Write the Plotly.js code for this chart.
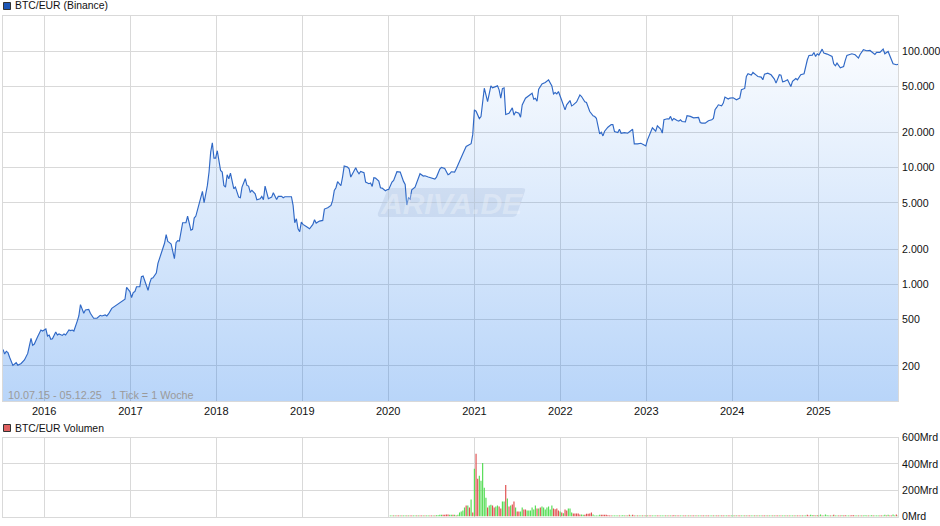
<!DOCTYPE html>
<html><head><meta charset="utf-8">
<script src="https://cdn.plot.ly/plotly-3.0.1.min.js"></script>
<style>html,body{margin:0;padding:0;background:#fff}</style></head>
<body><div id="chart" style="width:940px;height:526px"></div>
<script>
// weeks since 10.07.15 and weekly close in EUR
const priceWeek=[0,1,2,3,4,6,8,9,11,13,15,17,18,19,21,23,24,26,27,28,29,30,32,33,34,36,37,38,40,41,42,43,45,46,47,49,50,52,53,55,57,59,60,62,63,64,66,68,70,71,73,74,75,77,78,79,80,81,83,84,85,87,88,89,90,91,93,94,96,98,99,100,101,102,104,105,106,107,
109,111,112,114,115,116,117,119,120,121,122,124,125,126,127,128,129,130,132,133,134,135,136,137,138,140,141,143,144,145,147,148,149,150,151,153,154,156,157,158,159,161,163,164,166,167,169,170,171,173,175,176,177,178,179,180,
181,182,183,184,186,188,189,190,192,194,195,197,199,200,201,202,203,205,206,207,209,210,211,213,214,215,216,217,219,220,222,223,224,225,226,228,229,230,232,233,234,236,237,239,241,243,244,245,246,247,248,250,252,253,255,256,258,260,262,263,265,266,268,270,271,272,274,275,277,279,281,282,284,285,
286,287,289,290,291,292,294,296,297,298,300,301,302,303,304,305,307,309,310,311,313,314,315,317,319,321,322,323,324,325,327,329,331,333,334,335,336,337,339,341,342,344,345,346,348,350,351,353,354,356,358,359,360,362,363,364,365,367,369,370,371,373,374,375,377,379,382,383,385,387,389,390,391,393,
394,396,397,399,400,401,403,404,405,406,407,409,410,411,412,414,415,417,419,422,423,424,426,428,430,431,432,433,434,436,437,438,440,441,443,445,447,448,450,451,452,454,455,457,458,460,461,462,464,466,468,469,470,471,472,473,474,476,478,479,481,482,484,486,488,489,491,492,493,494,495,497,498,500,503,504,505,506,508,510,511,512,515,517,519,520,522,524,526,529,530,532,534,535,537,538,540,542,543];
const priceEUR=[277,253,267,260,237,202,213,203,210,225,256,345,300,308,356,406,398,415,361,368,338,342,391,368,376,365,376,368,406,401,406,398,482,536,670,565,603,611,565,512,512,543,536,547,536,558,623,652,688,698,725,745,944,867,770,850,867,955,955,1165,1180,990,890,1025,1125,1140,1250,1515,1847,2250,2670,2330,2280,2220,1660,2280,2370,2350,
3375,3375,3850,2920,2960,3700,3850,4912,5245,6266,5010,7055,9183,13620,16380,12100,12100,13990,9486,9180,7055,6825,8710,8050,9000,6607,6825,5603,5530,6825,8050,7055,6964,6185,6390,5984,5316,5422,5677,5316,6964,5422,5603,6105,5350,5677,5677,5530,5640,5603,5640,4753,3375,3652,2998,2825,
3420,3266,3224,3139,2998,3266,3581,3353,3488,3534,4420,4538,4753,5245,6390,6738,7584,7008,8316,10335,10132,9804,8316,9612,10000,9302,8883,9302,9060,7536,7292,7388,6918,8209,8153,7685,6738,6693,6350,6477,6520,7536,7787,9240,9180,7636,7196,4786,5530,5385,6477,6825,8047,8883,8482,8540,8316,8153,7994,8316,9741,10066,9870,8710,8883,9240,9180,9804,11560,13180,15240,15440,16060,19310,
31330,30520,26400,27480,35740,48050,36930,50350,48370,49020,50350,46510,39470,47740,48370,28590,29340,32600,28200,30130,29340,27110,34590,39470,41840,43560,38680,39470,37170,47120,52390,53760,56690,50350,43000,44100,43000,45050,37680,31330,34590,37680,33900,34590,36690,42120,40780,36690,36230,30320,27830,27480,26570,19500,20150,18750,20560,22250,23450,23450,20420,20020,21380,19760,20020,19760,21380,16000,16000,16220,15700,15390,17330,20700,
22000,20600,22900,21430,19800,25770,26300,26100,27540,25440,26460,25440,25100,25770,24930,24770,27900,27540,26800,26980,24440,24120,24120,25270,25770,26460,31400,32880,34640,33960,35800,40320,38760,39530,39800,38260,39530,46600,47860,60640,63950,62250,65620,62250,60640,59840,56770,63500,64740,62660,57540,53170,56770,62660,62250,54570,54950,56770,49760,54950,58280,56770,62660,63950,84250,91830,92400,97400,90000,94860,92400,104000,96100,94260,90000,77900,74840,78900,71960,73860,83180,91830,94860,93000,87100,93630,102660,100660,101320,93630,97400,97400,104000,94860,99340,92400,77900,76350,76870];

// weekly volume in Mrd, from week 235 on; g = up week, r = down week
const volFirstWeek=235;
const volMrd=[7,8,7,8,8,7,8,7,8,8,7,8,8,7,8,7,8,8,7,8,8,8,7,8,8,7,8,8,10,10,
13,13,13,13,15,15,13,13,13,13,8,13,30,38,46,68,84,84,68,129,30,362,476,
286,309,271,407,218,142,68,84,89,84,68,76,84,76,61,114,114,240,137,76,84,91,114,68,38,38,38,68,53,53,46,46,46,68,53,84,61,61,68,76,68,53,68,76,53,84,61,56,61,46,38,30,25,53,46,61,61,30,23,23,23,23,15,15,13,13,20,20,23,30,15,8,8,
8,13,13,13,13,13,10,8,8,8, 8,8,8,8,8,10,8,8,8,13, 8,13,8,8,8,8,8,8,8,8, 8,8,8,8,8,8,8,8,8,8, 8,8,8,8,8,8,10,8,8,8, 8,8,8,8,8,8,8,8,8,8, 8,8,8,8,8,8,8,8,8,8, 8,8,8,8,8,8,8,8,8,8, 8,8,8,8,8,8,8,8,8,8, 8,8,8,8,8,8,8,8,8,8, 8,8,8,8,8,8,8,8,8,8, 8,8,8,8,8,8,8,8,8,8, 8,8,8,8,8,8,8,13,8,13, 10,10,8,10,8,15,8,8,15,10, 8,8,8,13,8,8,8,8,10,8, 10,8,8,8,10,10,8,8,8,8, 8,8,10,8,8,8,10,8,8,8, 8,8,8,8,13,8,13,8,8,15,8,15,8];
const volDir=("ggrgrrgrggrgrrggrgrrgrggrrgrgg"+"ggrrrrggrgrgggg"+"g"+"rgrgrgr"+
"rgggggrggrrggrrggrgrgrrgrrggrrggggggrgrg"+"ggggggrrrrgrgrrgggrrrrrggrrrrrggggg"+"rrrrrrrgg"+
"ggrggg"+"rgrg"+"rrgrggrgrg"+"rrgggrrgggr"+"grgrrgrrgg"+"rrgrgrrgrg"+"grrgrrggrg"+"rrgrrggrrg"+"grgrrggrgr"+"rggrgrggrr"+"grggrgrrgr"+"ggrgrggrgr"+"rgrggrrggr"+"grggrggggr"+"grggrrgrrg"+"grrrggrgrg"+"ggrggrgggr"+"rggrgrrggr"+"grggrgrggrgrr").split("");

const yTickValues=[100000,50000,20000,10000,5000,2000,1000,500,200];
const yTickLabels=["100.000","50.000","20.000","10.000","5.000","2.000","1.000","500","200"];
const volTickValues=[600,400,200,0];
const volTickLabels=["600Mrd","400Mrd","200Mrd","0Mrd"];
const yearTicks=["2016","2017","2018","2019","2020","2021","2022","2023","2024","2025"];

const wk=w=>new Date(Date.UTC(2015,6,10)+w*7*864e5).toISOString().slice(0,10);
const px=x=>x/940, py=y=>1-y/526;
const upX=[],upY=[],dnX=[],dnY=[];
volMrd.forEach((v,i)=>{const d=wk(volFirstWeek+i); if(volDir[i]==='r'){dnX.push(d);dnY.push(v)}else{upX.push(d);upY.push(v)}});
const grid='#d9d9d9', font='"Liberation Sans",Arial,sans-serif', range=[wk(0),wk(543)];
const barW=5*864e5;
const traces=[
 {x:priceWeek.map(wk),y:priceEUR,type:'scatter',mode:'lines',xaxis:'x',yaxis:'y',
  line:{color:'#2f68c6',width:1.15},fill:'tozeroy',
  fillgradient:{type:'vertical',start:100,stop:200000,colorscale:[[0,'rgba(20,115,235,0.3)'],[1,'rgba(20,115,235,0)']]},hoverinfo:'skip'},
 {x:upX,y:upY,type:'bar',xaxis:'x2',yaxis:'y2',width:barW,marker:{color:'#55dd55',line:{width:0}},hoverinfo:'skip'},
 {x:dnX,y:dnY,type:'bar',xaxis:'x2',yaxis:'y2',width:barW,marker:{color:'#e05050',line:{width:0}},hoverinfo:'skip'}
];
const xBase={type:'date',range:range,tickvals:yearTicks.map(y=>y+'-01-01'),ticktext:yearTicks,gridcolor:grid,gridwidth:1,
 showline:true,linecolor:grid,linewidth:1,mirror:true,zeroline:false,ticks:'',tickfont:{family:font,size:11,color:'#111'}};
const yBase={side:'right',showline:true,linecolor:grid,linewidth:1,gridcolor:grid,gridwidth:1,zeroline:false,mirror:true,
 ticks:'outside',ticklen:1,tickcolor:'rgba(0,0,0,0)',tickfont:{family:font,size:10.6,color:'#111'}};
const swatch=(y,c)=>({type:'rect',xref:'paper',yref:'paper',x0:px(3.5),x1:px(10.5),y0:py(y+3.5),y1:py(y-3.5),fillcolor:c,line:{color:'#333',width:1}});
const label=(x,y,t,c,s)=>({xref:'paper',yref:'paper',x:px(x-2),y:py(y),text:t,showarrow:false,xanchor:'left',yanchor:'middle',font:{family:font,size:s||10.4,color:c||'#111'}});
const layout={width:940,height:526,margin:{l:0,r:0,t:0,b:0},paper_bgcolor:'#fff',plot_bgcolor:'#fff',showlegend:false,barmode:'overlay',
 xaxis:Object.assign({},xBase,{domain:[px(3),px(898)],anchor:'y'}),
 yaxis:Object.assign({},yBase,{type:'log',range:[2,5.301],domain:[py(401),py(16)],anchor:'x',tickvals:yTickValues,ticktext:yTickLabels}),
 xaxis2:Object.assign({},xBase,{domain:[px(3),px(898)],anchor:'y2',showticklabels:false}),
 yaxis2:Object.assign({},yBase,{range:[0,600],domain:[py(516.5),py(437.5)],anchor:'x2',tickvals:volTickValues,ticktext:volTickLabels}),
 shapes:[swatch(6,'#1c57b8'),swatch(428,'#e06060'),
  {type:'path',xref:'paper',yref:'paper',layer:'below',line:{width:0},fillcolor:'rgba(90,110,150,0.12)',
   path:`M ${px(378)} ${py(213)} L ${px(387)} ${py(191)} Q ${px(388)} ${py(188)} ${px(392)} ${py(188)} L ${px(522)} ${py(188)} Q ${px(526)} ${py(188)} ${px(525)} ${py(191)} L ${px(517)} ${py(214)} Q ${px(516)} ${py(217)} ${px(512)} ${py(217)} L ${px(381)} ${py(217)} Q ${px(377)} ${py(217)} ${px(378)} ${py(213)} Z`}],
 annotations:[label(15,5.5,'BTC/EUR (Binance)'),label(15,428,'BTC/EUR Volumen'),
  label(8,395,'10.07.15 - 05.12.25\u00a0\u00a0\u00a01 Tick = 1 Woche','#9a9a9a',10.8),
  {xref:'paper',yref:'paper',x:px(451),y:py(203),text:'<b><i>ARIVA.DE</i></b>',showarrow:false,font:{family:font,size:30,color:'rgba(255,255,255,0.3)'}}]
};
Plotly.newPlot('chart',traces,layout,{displayModeBar:false,staticPlot:true});
</script></body></html>
